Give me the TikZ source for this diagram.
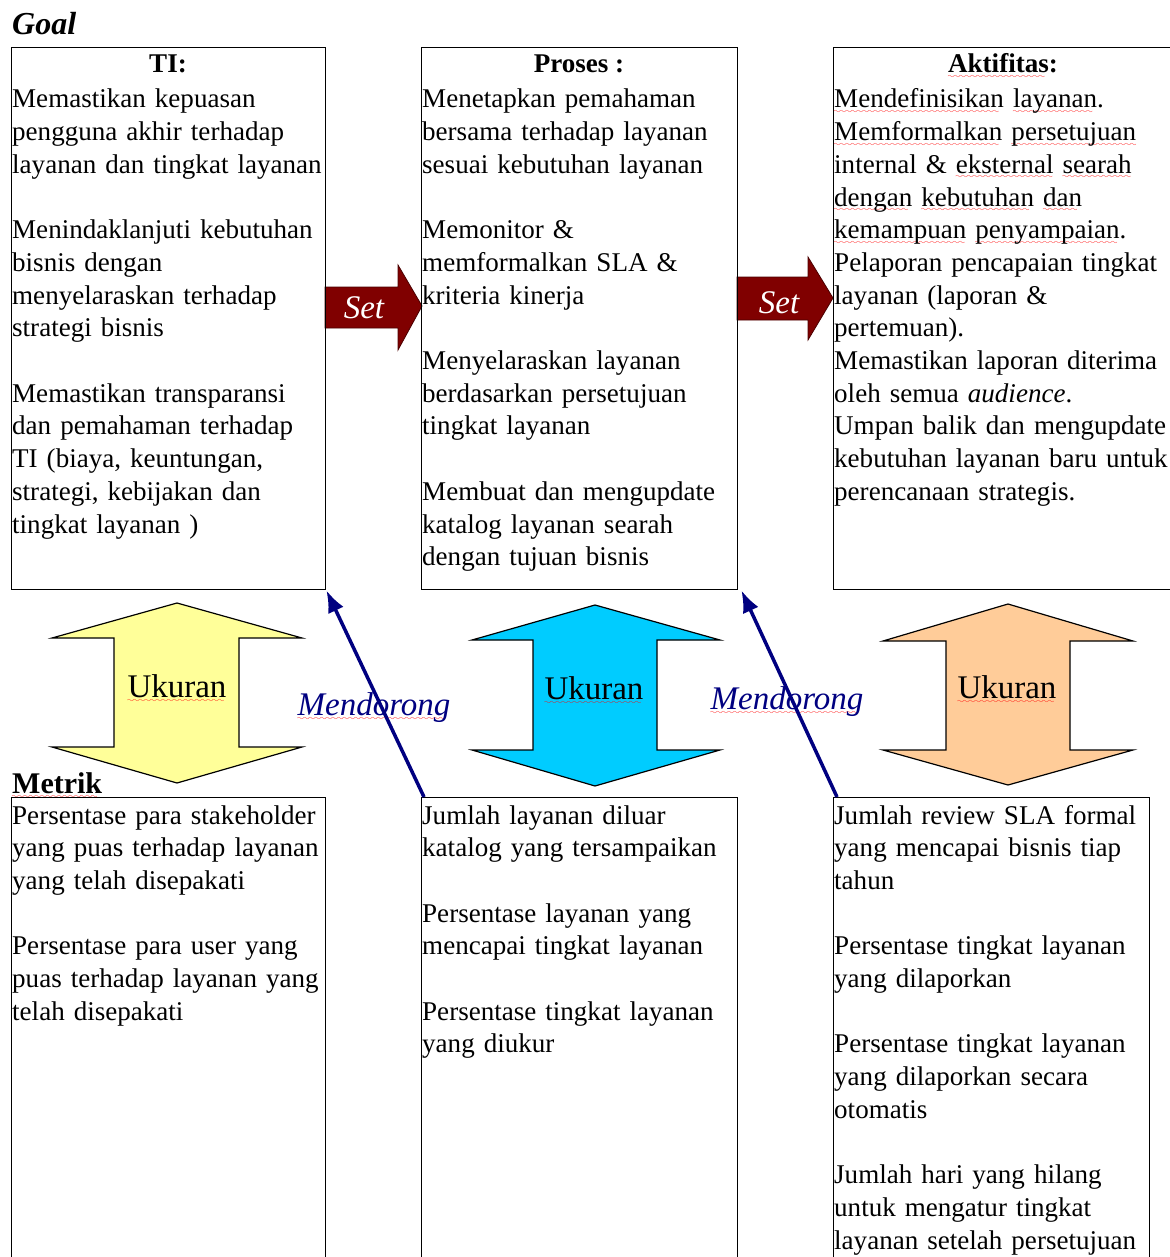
\documentclass[tikz,border=0pt]{standalone}
\usepackage{fontspec}
\setmainfont{Liberation Serif}
\usetikzlibrary{arrows.meta}

% red wavy spell-check underline
\font\wavefont=lasy8
\newsavebox\sqbox
\newcommand\sq[1]{\leavevmode\sbox\sqbox{#1}\rlap{\lower5.5pt\hbox to\wd\sqbox{\color{red}\leaders\hbox{\wavefont\char58}\hfill}}\usebox\sqbox}

\definecolor{setred}{HTML}{800000}
\definecolor{setedge}{HTML}{4A0000}
\definecolor{drivecol}{HTML}{000080}
\definecolor{ukyellow}{HTML}{FFFF99}
\definecolor{ukcyan}{HTML}{00CCFF}
\definecolor{ukorange}{HTML}{FFCC99}

\newcommand\bodyfont{\fontsize{27.05}{32.7}\selectfont}
\newcommand\bigfont{\fontsize{33}{38}\selectfont}

\tikzset{
  box/.style={draw, line width=1.4pt, inner sep=0pt, anchor=north west},
  txt/.style={font=\bodyfont, align=left, text width=345pt, inner sep=0pt, anchor=base west},
  head/.style={font=\bodyfont\bfseries, inner sep=0pt, anchor=base},
  setarrow/.style={fill=setred, draw=setedge, line width=0.8pt, line join=miter},
  settext/.style={font=\bigfont\itshape, text=white, inner sep=0pt, anchor=base},
  updown/.style={draw=black, line width=1.2pt, line join=miter},
  uktext/.style={font=\bigfont, inner sep=0pt, anchor=base},
  drive/.style={draw=drivecol, line width=3.5pt, -{Latex[length=22pt,width=17pt]}},
  drivetext/.style={font=\bigfont\itshape, text=drivecol, inner sep=0pt, anchor=base},
  label/.style={inner sep=0pt, anchor=base west}
}

\begin{document}
\begin{tikzpicture}[x=1pt, y=-1pt]
\useasboundingbox (0,0) rectangle (1169,1257);

% "Set" arrows between the goal boxes
\path[setarrow] (325,287) -- (398,287) -- (398,265) -- (422,306) -- (398,350) -- (398,328) -- (325,328) -- cycle;
\node[settext] (set1) at (364,318) {Set};
\path[setarrow] (737,277) -- (808,277) -- (808,257) -- (833,298) -- (808,340) -- (808,320) -- (737,320) -- cycle;
\node[settext] (set2) at (779,313) {Set};

% up-down "Ukuran" arrows
\path[updown, fill=ukyellow] (177,603) -- (302,638) -- (239,638) -- (239,747) -- (302,747) -- (177,783)
  -- (52,747) -- (114,747) -- (114,638) -- (52,638) -- cycle;
\node[uktext] (uk1) at (177,697) {\sq{Ukuran}};
\path[updown, fill=ukcyan] (595,605) -- (720,640) -- (657,640) -- (657,750) -- (720,750) -- (595,786)
  -- (472,750) -- (533,750) -- (533,640) -- (472,640) -- cycle;
\node[uktext] (uk2) at (594,699) {\sq{Ukuran}};
\path[updown, fill=ukorange] (1008,604) -- (1133,641) -- (1070,641) -- (1070,750) -- (1133,750) -- (1008,785)
  -- (883,750) -- (946,750) -- (946,641) -- (883,641) -- cycle;
\node[uktext] (uk3) at (1007,698) {\sq{Ukuran}};

% section labels
\node[label, font=\fontsize{32}{36}\selectfont\bfseries\itshape] (goal) at (12,35) {Goal};
\node[label, font=\fontsize{30}{34}\selectfont\bfseries] (metrik) at (12,793) {\sq{Metrik}};

% goal boxes
\node[box, minimum width=314pt, minimum height=542pt] (ti) at (11,47) {};
\node[box, minimum width=316pt, minimum height=542pt] (proses) at (421,47) {};
\node[box, minimum width=342pt, minimum height=542pt] (aktif) at (833,47) {};

% metric boxes
\node[box, minimum width=314pt, minimum height=480pt] (m1) at (11,797) {};
\node[box, minimum width=316pt, minimum height=480pt] (m2) at (421,797) {};
\node[box, minimum width=316pt, minimum height=480pt] (m3) at (833,797) {};

% headings
\node[head] (ti-head) at (168,73) {TI:};
\node[head] (proses-head) at (579,73) {Proses :};
\node[head] (aktif-head) at (1003,73) {\sq{Aktifitas}:};

% goal texts
\node[txt] (ti-text) at (12,108) {Memastikan kepuasan\\
pengguna akhir terhadap\\
layanan dan tingkat layanan\\[32.7pt]
Menindaklanjuti kebutuhan\\
bisnis dengan\\
menyelaraskan terhadap\\
strategi bisnis\\[32.7pt]
Memastikan transparansi\\
dan pemahaman terhadap\\
TI (biaya, keuntungan,\\
strategi, kebijakan dan\\
tingkat layanan )};

\node[txt] (proses-text) at (422,108) {Menetapkan pemahaman\\
bersama terhadap layanan\\
sesuai kebutuhan layanan\\[32.7pt]
Memonitor \&\\
memformalkan SLA \&\\
kriteria kinerja\\[32.7pt]
Menyelaraskan layanan\\
berdasarkan persetujuan\\
tingkat layanan\\[32.7pt]
Membuat dan mengupdate\\
katalog layanan searah\\
dengan tujuan bisnis};

\node[txt] (aktif-text) at (834,108) {\sq{Mendefinisikan} \sq{layanan}.\\
\sq{Memformalkan} \sq{persetujuan}\\
internal \& \sq{eksternal} \sq{searah}\\
\sq{dengan} \sq{kebutuhan} \sq{dan}\\
\sq{kemampuan} \sq{penyampaian}.\\
Pelaporan pencapaian tingkat\\
layanan (laporan \&\\
pertemuan).\\
Memastikan laporan diterima\\
oleh semua \textit{audience}.\\
Umpan balik dan mengupdate\\
kebutuhan layanan baru untuk\\
perencanaan strategis.};

% metric texts
\node[txt] (m1-text) at (12,824) {Persentase para stakeholder\\
yang puas terhadap layanan\\
yang telah disepakati\\[32.7pt]
Persentase para user yang\\
puas terhadap layanan yang\\
telah disepakati};

\node[txt] (m2-text) at (422,824) {Jumlah layanan diluar\\
katalog yang tersampaikan\\[32.7pt]
Persentase layanan yang\\
mencapai tingkat layanan\\[32.7pt]
Persentase tingkat layanan\\
yang diukur};

\node[txt] (m3-text) at (834,824) {Jumlah review SLA formal\\
yang mencapai bisnis tiap\\
tahun\\[32.7pt]
Persentase tingkat layanan\\
yang dilaporkan\\[32.7pt]
Persentase tingkat layanan\\
yang dilaporkan secara\\
otomatis\\[32.7pt]
Jumlah hari yang hilang\\
untuk mengatur tingkat\\
layanan setelah persetujuan};

% "Mendorong" drive arrows from metrics up to goals
\node[drivetext] (drive1) at (374,715) {\sq{Mendorong}};
\node[drivetext] (drive2) at (787,709) {\sq{Mendorong}};
\draw[drive] ([xshift=3pt]m2.north west) -- (ti.south east);
\draw[drive] ([xshift=4pt]m3.north west) -- ([xshift=3pt]proses.south east);

\end{tikzpicture}
\end{document}
